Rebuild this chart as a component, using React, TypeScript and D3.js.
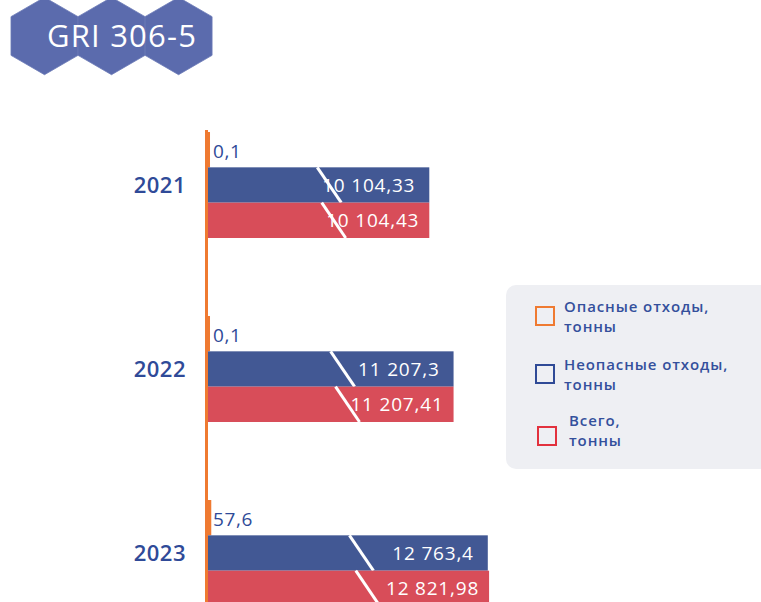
import * as d3 from "d3";

const years = ["2021", "2022", "2023"];
const seriesKeys = ["hazard", "nonHazard", "total"];
const hazard = [0.1, 0.1, 57.6];
const nonHazard = [10104.33, 11207.3, 12763.4];
const total = [10104.43, 11207.41, 12821.98];
const hazardLabels = ["0,1", "0,1", "57,6"];
const nonHazardLabels = ["10 104,33", "11 207,3", "12 763,4"];
const totalLabels = ["10 104,43", "11 207,41", "12 821,98"];
const legendItems = [
  { lines: ["Опасные отходы,", "тонны"], color: "#ef7a31" },
  { lines: ["Неопасные отходы,", "тонны"], color: "#2f4a96" },
  { lines: ["Всего,", "тонны"], color: "#e2313d" },
];

const W = 761;
const H = 602;
const FONT = "'Open Sans', 'Noto Sans', sans-serif";
const TEXT_BLUE = "#2f4a98";
const BLUE = "#425894";
const RED = "#d84d59";
const ORANGE = "#ef7a31";

export default function App() {
  const x0 = 207;
  const x = d3.scaleLinear().domain([0, 13000]).range([x0, x0 + 286]);
  const y = d3.scaleBand().domain(years).range([132, 132 + 184 * 3]);
  const ySub = d3.scaleBand().domain(seriesKeys).range([0, 106]);
  const bh = ySub.bandwidth();

  const hexR = 38.7;
  const hexW = Math.sqrt(3) * hexR;
  const hexPath = (cx: number, cy: number) =>
    d3.line()(
      d3.range(6).map((i) => {
        const a = (Math.PI / 3) * i - Math.PI / 2;
        return [cx + hexR * Math.cos(a), cy + hexR * Math.sin(a)] as [number, number];
      })
    ) + "Z";

  const slash = (start: number, end: number, top: number, frac: number) => {
    const cx = start + (end - start) * frac;
    return (
      <line
        x1={cx - 12}
        y1={top}
        x2={cx + 12}
        y2={top + bh}
        stroke="#fff"
        strokeWidth={3}
      />
    );
  };

  return (
    <svg
      width={W}
      height={H}
      style={{ position: "absolute", left: 0, top: 0, fontFamily: FONT }}
    >
      {/* badge */}
      {[0, 1, 2].map((i) => (
        <path
          key={i}
          d={hexPath(44.5 + i * hexW, 36)}
          fill="#5b6bad"
          stroke="#6b7ab6"
          strokeWidth={0.8}
        />
      ))}
      <text x={47} y={47} fill="#fff" fontSize={31} letterSpacing={1.2}>
        GRI 306-5
      </text>

      {years.map((yr, i) => {
        const g = y(yr)!;
        const yh = g + ySub("hazard")!;
        const yn = g + ySub("nonHazard")!;
        const yt = g + ySub("total")!;
        return (
          <g key={yr}>
            <text
              x={186}
              y={yn + bh / 2}
              dy="0.35em"
              textAnchor="end"
              fill={TEXT_BLUE}
              fontSize={22}
              fontWeight={600}
              letterSpacing={0.5}
            >
              {yr}
            </text>
            <rect x={x0 - 2} y={yh} width={x(hazard[i]) - x0 + 5} height={bh} fill={ORANGE} />
            <text
              x={213}
              y={yh + bh / 2 + 2}
              dy="0.35em"
              fill={TEXT_BLUE}
              fontSize={19}
              letterSpacing={0.6}
            >
              {hazardLabels[i]}
            </text>
            <rect x={x0} y={yn} width={x(nonHazard[i]) - x0} height={bh} fill={BLUE} />
            {slash(x0, x(nonHazard[i]), yn, 0.55)}
            <text
              x={x(nonHazard[i]) - 14}
              y={yn + bh / 2}
              dy="0.35em"
              textAnchor="end"
              fill="#fff"
              fontSize={19}
              letterSpacing={0.8}
            >
              {nonHazardLabels[i]}
            </text>
            <rect x={x0} y={yt} width={x(total[i]) - x0} height={bh} fill={RED} />
            {slash(x0, x(total[i]), yt, 0.57)}
            <text
              x={x(total[i]) - 10}
              y={yt + bh / 2}
              dy="0.35em"
              textAnchor="end"
              fill="#fff"
              fontSize={19}
              letterSpacing={0.8}
            >
              {totalLabels[i]}
            </text>
          </g>
        );
      })}

      {/* axis */}
      <line x1={206.5} x2={206.5} y1={130} y2={H} stroke={ORANGE} strokeWidth={3} />

      {/* legend */}
      <rect x={506} y={285} width={280} height={184} rx={10} fill="#eeeff3" />
      {legendItems.map((item, i) => {
        const top = 306 + i * 58 + (i === 2 ? 4 : 0);
        const sx = 535 + (i === 2 ? 2 : 0);
        return (
          <g key={i}>
            <rect
              x={sx + 1}
              y={top + 1}
              width={18}
              height={18}
              fill="none"
              stroke={item.color}
              strokeWidth={2}
            />
            {item.lines.map((ln, j) => (
              <text
                key={j}
                x={sx + 29 + (i === 2 ? 3 : 0)}
                y={top + 6 + j * 20 - (i === 2 ? 6 : 0)}
                fill="#34509c"
                fontSize={15}
                fontWeight={600}
                letterSpacing={0.9}
              >
                {ln}
              </text>
            ))}
          </g>
        );
      })}
    </svg>
  );
}
